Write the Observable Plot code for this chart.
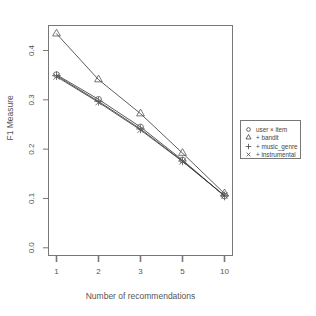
<!DOCTYPE html>
<html><head><meta charset="utf-8">
<script src="https://cdn.jsdelivr.net/npm/d3@7"></script>
<script src="https://cdn.jsdelivr.net/npm/@observablehq/plot@0.6"></script>
<style>
body{margin:0;background:#fff;font-family:"Liberation Sans",Arial,sans-serif;}
#wrap{position:relative;width:316px;height:316px;}
#legend{position:absolute;left:240px;top:120px;width:61px;height:39px;border:1px solid #777;box-sizing:border-box;font-size:6.3px;color:#444;background:#fff;z-index:2;}
#legend .row{position:absolute;left:1px;height:9px;display:flex;align-items:center;}
#legend svg{display:block}
</style></head><body><div id="wrap"><div id="legend"></div></div>
<script>
const categories = ["1","2","3","5","10"];
const seriesNames = ["user \u00d7 item","+ bandit","+ music_genre","+ instrumental"];
const userItem = [0.351, 0.301, 0.245, 0.178, 0.105];
const bandit = [0.434, 0.341, 0.272, 0.192, 0.110];
const musicGenre = [0.349, 0.297, 0.241, 0.176, 0.105];
const instrumental = [0.347, 0.295, 0.239, 0.175, 0.106];
const symbols = ["circle","triangle","plus","times"];
const yTicks = [0, 0.1, 0.2, 0.3, 0.4];

const all = [userItem, bandit, musicGenre, instrumental];
const data = [];
all.forEach((vals, s) => vals.forEach((v, i) => data.push({series: seriesNames[s], sym: symbols[s], k: categories[i], v})));

const gray = "#777";
const txt = "#555";
const chart = Plot.plot({
  width: 316, height: 316,
  marginLeft: 48, marginRight: 84, marginTop: 25, marginBottom: 61,
  style: {fontFamily: "'Liberation Sans', Arial, sans-serif", fontSize: "8px", color: txt, background: "white"},
  x: {type: "point", domain: categories, range: [55, 225], padding: 0},
  y: {domain: [0, 0.4], range: [247.3, 50]},
  symbol: {domain: symbols, range: symbols},
  marks: [
    Plot.frame({stroke: gray}),
    Plot.axisY(yTicks, {tickSize: 5, stroke: gray, text: null, label: null}),
    Plot.text(yTicks, {y: d => d, text: d3.format(".1f"), frameAnchor: "left", dx: -17, rotate: -90, textAnchor: "middle", fontSize: 8, fill: txt}),
    Plot.axisX(categories, {tickSize: 7, stroke: gray, strokeWidth: 1.6, tickPadding: 6, label: null, fontSize: 8, fill: txt}),
    Plot.text(["F1 Measure"], {frameAnchor: "left", dx: -38, rotate: -90, fontSize: 8.5, fill: txt}),
    Plot.text(["Number of recommendations"], {frameAnchor: "bottom", dy: 43, fontSize: 8.5, fill: txt}),
    Plot.line(data, {x: "k", y: "v", z: "series", stroke: "#333", strokeWidth: 0.8}),
    Plot.dot(data, {x: "k", y: "v", symbol: "sym", r: 2.9, stroke: "#555", strokeWidth: 0.8, fill: "none"})
  ]
});
document.getElementById("wrap").prepend(chart);
chart.style.position = "absolute"; chart.style.left = "0"; chart.style.top = "0";

const symMap = {circle: d3.symbolCircle, triangle: d3.symbolTriangle, plus: d3.symbolPlus, times: d3.symbolTimes};
const leg = document.getElementById("legend");
seriesNames.forEach((name, i) => {
  const row = document.createElement("div");
  row.className = "row";
  row.style.top = (4 + i * 8.3) + "px";
  const s = d3.create("svg").attr("width", 13).attr("height", 9);
  s.append("path").attr("transform", "translate(6.5,4.5)")
    .attr("d", d3.symbol(symMap[symbols[i]], 11)())
    .attr("fill", "none").attr("stroke", "#444").attr("stroke-width", 0.8);
  row.appendChild(s.node());
  const t = document.createElement("span");
  t.textContent = name; t.style.marginLeft = "1px";
  row.appendChild(t);
  leg.appendChild(row);
});
</script></body></html>
